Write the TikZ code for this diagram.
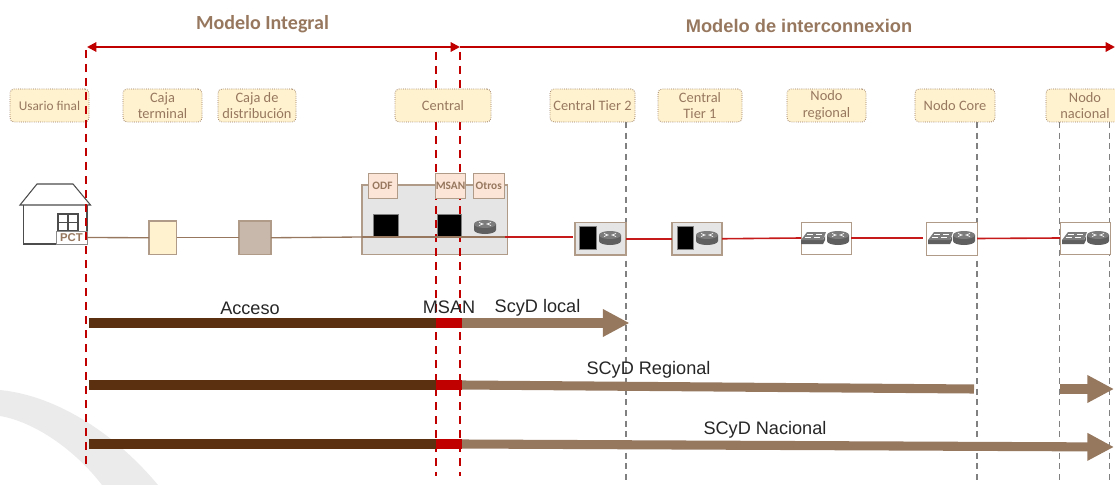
\documentclass[tikz,border=0pt]{standalone}
\usepackage{fontspec}
\setmainfont{Liberation Sans}
\newfontfamily\calib{Carlito}
\usetikzlibrary{arrows.meta}
\definecolor{tan}{HTML}{97785F}
\definecolor{tanbar}{HTML}{96785F}
\definecolor{darkbr}{HTML}{5A3011}
\definecolor{dred}{HTML}{C00000}
\definecolor{lblfill}{HTML}{FFF2CF}
\definecolor{pinkfill}{HTML}{FCE4D6}
\definecolor{edgebr}{HTML}{B09A88}
\definecolor{greybox}{HTML}{E5E5E5}
\definecolor{icondark}{HTML}{5F5F5F}
\definecolor{iconlight}{HTML}{7C7C7C}
\newcommand\bx[6]{%
  \pgfmathsetmacro\bxw{(#4-#2)*0.75}\pgfmathsetmacro\bxh{(#5-#3)*0.75}%
  \node[#6,minimum width=\bxw pt,minimum height=\bxh pt] (#1) at ({(#2+#4)/2},{(#3+#5)/2})}
\tikzset{
  lbl/.style={draw=tan,densely dotted,line width=.6pt,fill=lblfill,rounded corners=3pt,inner sep=0pt,outer sep=0pt,
    text=tan,align=center,font=\calib\fontsize{10.8}{12.5}\selectfont},
  pinkbox/.style={draw=edgebr,line width=.7pt,fill=pinkfill,inner sep=0pt,outer sep=0pt,text=tan,font=\calib\bfseries\fontsize{8.5}{10}\selectfont},
  plainbox/.style={draw=edgebr,line width=.6pt,fill=white,inner sep=0pt,outer sep=0pt},
  greyb/.style={draw=edgebr,line width=.8pt,fill=greybox,inner sep=0pt,outer sep=0pt},
  blackb/.style={draw=gray,line width=.5pt,fill=black,inner sep=0pt,outer sep=0pt},
  redd/.style={draw=dred,line width=1.9pt,dash pattern=on 6pt off 4.5pt},
  greyd/.style={draw=gray,line width=.9pt,dash pattern=on 4.5pt off 3.5pt},
  brline/.style={draw=tan,line width=1pt},
  redline/.style={draw=dred!90,line width=1.2pt},
  bar/.style={line width=6.8pt},
  tanarrow/.style={draw=tanbar,line width=6.8pt,-{Triangle[length=20pt,width=19.5pt]}},
  toparrow/.style={draw=dred,line width=1.5pt,-{Triangle[length=7pt,width=7pt]}},
  barlbl/.style={inner sep=0pt,font=\fontsize{13.6}{15}\selectfont,text=black!85},
  title/.style={inner sep=0pt,text=tan,font=\bfseries\fontsize{13.7}{15}\selectfont},
  router/.pic={
    \fill[icondark] (-11,-3) -- (-11,3) arc[x radius=11,y radius=4,start angle=180,end angle=0] -- (11,-3) -- cycle;
    \fill[iconlight] (0,-3) ellipse[x radius=11,y radius=4];
    \draw[white,line width=.5pt] (-6,-4.5) -- (-2,-3) -- (-6,-1.5) (6,-4.5) -- (2,-3) -- (6,-1.5);
  },
  switchic/.pic={
    \fill[icondark] (-12,2) -- (10,2) -- (12,-2) -- (12,2) -- (10,6) -- (-12,6) -- cycle;
    \fill[iconlight] (-12,2) -- (-6,-6) -- (13,-6) -- (10,2) -- cycle;
    \draw[white,line width=.6pt] (-6,-3.5) -- (0,-3.5) (3,-3.5) -- (9,-3.5) (-8,-.5) -- (-2,-.5) (1,-.5) -- (7,-.5);
  }
}
\begin{document}
\begin{tikzpicture}[x=.75pt,y=-.75pt]
\useasboundingbox (0,0) rectangle (1115,485);
% watermark
\fill[black!8] (0,390) .. controls (60,396) and (118,437) .. (158,485) -- (102,485) .. controls (75,450) and (35,422) .. (0,416) -- cycle;

% grey dashed guides
\foreach \n/\xx in {g1/626,g2/977,g3/1059.5,g4/1109.5}{
  \coordinate (\n a) at (\xx,122); \coordinate (\n b) at (\xx,480);
  \draw[greyd] (\n a) -- (\n b);
}

% central building
\bx{cen}{362}{185}{507.5}{254.5}{greyb}{};

% red dashed inner guides
\coordinate (m1a) at (436,52); \coordinate (m1b) at (436,476);
\coordinate (m2a) at (460,52); \coordinate (m2b) at (460,476);
\draw[redd] (m1a) -- (m1b);
\draw[redd] (m2a) -- (m2b);

% labels
\bx{l1}{10}{89}{89}{122}{lbl,font=\calib\fontsize{10}{12.5}\selectfont}{Usario final};
\bx{l2}{123}{89}{202}{122}{lbl}{Caja\\terminal};
\bx{l3}{218}{89}{296}{122}{lbl}{Caja de\\distribución};
\bx{l4}{395}{89}{491}{122}{lbl}{Central};
\bx{l5}{550}{89}{635}{122}{lbl}{Central Tier 2};
\bx{l6}{658}{89}{742}{122}{lbl}{Central\\Tier 1};
\bx{l7}{787}{89}{866}{122}{lbl}{Nodo\\regional};
\bx{l8}{915}{89}{995}{122}{lbl}{Nodo Core};
\bx{l9}{1046}{89}{1124}{122}{lbl,text width=52.5pt}{Nodo\\nacional};

% house
\draw[black!70,line width=.8pt] (20,205) -- (37,184) -- (73,184) -- (90.5,205) -- cycle;
\draw[black!70,line width=.8pt] (23.5,205) -- (23.5,244) -- (87,244) -- (87,205);
\draw[black!70,line width=.8pt] (58,214) rectangle (78,231) (68,214) -- (68,231) (58,222.5) -- (78,222.5);
\bx{pct}{56}{231}{87}{244}{draw=black!45,line width=.6pt,fill=white,inner sep=0pt,outer sep=0pt,text=tan,font=\bfseries\fontsize{8.5}{10}\selectfont}{PCT};

% access devices
\bx{ct}{149}{221}{176.5}{254.5}{draw=edgebr,line width=.8pt,fill=lblfill,inner sep=0pt,outer sep=0pt}{};
\bx{cd}{239}{221}{271}{254.5}{draw=edgebr,line width=.8pt,fill=edgebr!70,inner sep=0pt,outer sep=0pt}{};

% central contents
\bx{odf}{368}{173}{397}{198.5}{pinkbox}{ODF};
\bx{msanb}{435.5}{173}{465.5}{198.5}{pinkbox}{MSAN};
\bx{otros}{473.5}{173}{504}{198.5}{pinkbox}{Otros};
\bx{bk1}{373.5}{214.5}{398}{237}{blackb}{};
\bx{bk2}{437.5}{214}{461}{237}{blackb}{};
\pic at (485,227) {router};

% nodes on the chain
\bx{t2}{575}{222.5}{626}{255}{greyb}{};
\bx{bk3}{579}{226}{596}{249}{blackb}{};
\pic at (610,238) {router};
\bx{t1}{672}{222.5}{722}{255}{greyb}{};
\bx{bk4}{677}{226.5}{693}{249}{blackb}{};
\pic at (707,238) {router};
\bx{nr}{801}{222}{851}{254}{plainbox}{};
\pic at (813,238) {switchic}; \pic at (838,238) {router};
\bx{nc}{926}{222}{977}{255}{plainbox}{};
\pic at (940,238) {switchic}; \pic at (964,238) {router};
\bx{nn}{1060}{222}{1110}{254}{plainbox}{};
\pic at (1074,238) {switchic}; \pic at (1098,238) {router};

% chain lines
\coordinate (cenr) at (505,237);
\coordinate (cenl) at (362,237);
\draw[brline] (pct.east) -- (ct.west);
\draw[brline] (ct.east) -- (cd.west);
\draw[brline] (cd.east) -- (cenl);
\draw[brline] (cenl) -- (cenr);
\draw[redline] (cenr) -- (573,237);
\draw[redline] (t2.east) -- (t1.west);
\draw[redline] (t1.east) -- (nr.west);
\draw[redline] (nr.east) -- (923,238);
\draw[redline] (nc.east) -- (nn.west);

% outer red dashed guide on top of label
\coordinate (m0a) at (86,50); \coordinate (m0b) at (86,465);
\draw[redd] (m0a) -- (m0b);

% top arrows
\coordinate (ta) at (87,47); \coordinate (tb) at (460,47); \coordinate (tc) at (1115,47);
\draw[draw=dred!35,line width=.7pt] (95,46) -- (452,46) (468,46) -- (1108,46);
\draw[toparrow,{Triangle[length=7pt,width=7pt]}-{Triangle[length=7pt,width=7pt]}] (ta) -- (tb);
\draw[toparrow] (tb) -- (tc);

% bars
\foreach \n/\yy in {a/323,b/385,c/444}{
  \coordinate (\n0) at (89,\yy); \coordinate (\n1) at (436,\yy); \coordinate (\n2) at (462,\yy);
  \draw[bar,draw=darkbr] (\n0) -- (\n1);
}
\coordinate (a3) at (629.5,323);
\coordinate (b3) at (974,389);
\coordinate (c3) at (1114,447);
\coordinate (d0) at (1060,389); \coordinate (d1) at (1114,389);
\draw[tanarrow] (a2) -- (a3);
\draw[bar,draw=tanbar] (b2) -- (b3);
\draw[tanarrow] (c2) -- (c3);
\draw[tanarrow] (d0) -- (d1);
\foreach \n in {a,b,c}{ \draw[bar,draw=dred] (\n1) -- (\n2); }

% texts
\node[title,font=\calib\bfseries\fontsize{15}{16}\selectfont] (t1x) at (262.5,24) {Modelo Integral};
\node[title] (t2x) at (799,26) {Modelo de interconnexion};
\node[barlbl] (la) at (250,308) {Acceso};
\node[barlbl] (lb) at (449,307) {MSAN};
\node[barlbl] (lc) at (537.5,308) {ScyD local};
\node[barlbl] (ld) at (648.5,370) {SCyD Regional};
\node[barlbl] (le) at (765,429.5) {SCyD Nacional};
\end{tikzpicture}
\end{document}
